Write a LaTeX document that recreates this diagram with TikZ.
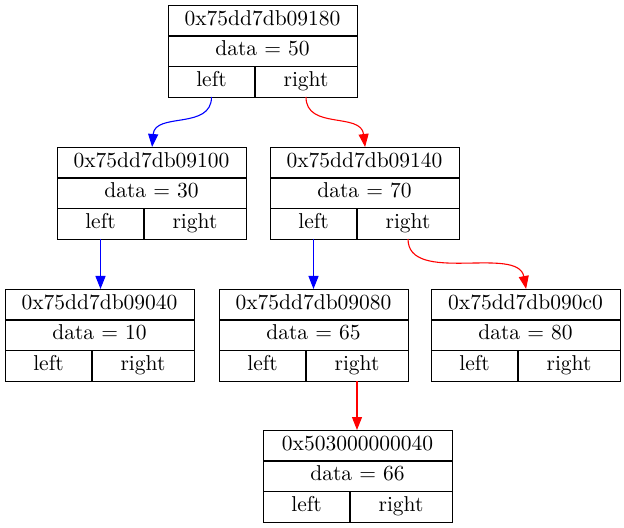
\documentclass[tikz,border=0pt]{standalone}
\usetikzlibrary{arrows.meta}
\begin{document}
\begin{tikzpicture}[x=0.5pt,y=-0.5pt,
  recbox/.style={draw=black,line width=0.6pt,inner sep=0pt,minimum width=94.5pt,minimum height=46pt},
  recline/.style={draw=black,line width=0.6pt},
  rectext/.style={inner sep=0pt,font=\fontsize{10.75}{13}\selectfont,text height=0.68em,text depth=0.22em},
  link/.style={line width=0.55pt,-{Triangle[length=6.5pt,width=5pt]}},
  leftlink/.style={link,blue},
  rightlink/.style={link,red}]
\useasboundingbox (0,0) rectangle (624,528);
% one tree node: name, left x, top y, address, key
\newcommand\bstnode[5]{%
  \begin{scope}[shift={(#2,#3)}]
    \node[recbox,anchor=north west] (#1) at (0,0) {};
    \draw[recline] (0,31) -- (189,31) (0,61.5) -- (189,61.5) (87,61.5) -- (87,92);
    \node[rectext] (#1-addr) at (94.5,15.5) {#4};
    \node[rectext] (#1-data) at (94.5,46.25) {data = #5};
    \node[rectext] (#1-left) at (43.5,76.75) {left};
    \node[rectext] (#1-right) at (138,76.75) {right};
    \coordinate (#1-lp) at (43.5,92);
    \coordinate (#1-rp) at (138,92);
  \end{scope}}
\bstnode{n50}{168}{5}{0x75dd7db09180}{50}
\bstnode{n30}{57}{147}{0x75dd7db09100}{30}
\bstnode{n70}{270}{147}{0x75dd7db09140}{70}
\bstnode{n10}{5}{289}{0x75dd7db09040}{10}
\bstnode{n65}{219}{289}{0x75dd7db09080}{65}
\bstnode{n80}{431}{289}{0x75dd7db090c0}{80}
\bstnode{n66}{263}{430}{0x503000000040}{66}
% child links
\draw[leftlink] (n50-lp) .. controls (211.5,130) and (155,112) .. (n30.north);
\draw[rightlink] (n50-rp) .. controls (306,130) and (361,112) .. (n70.north);
\draw[leftlink] (n30-lp) -- (n30-lp |- n10.north);
\draw[leftlink] (n70-lp) -- (n70-lp |- n65.north);
\draw[rightlink] (n70-rp) .. controls (408,285) and (518,245) .. (n80.north);
\draw[rightlink] (n65-rp) -- (n65-rp |- n66.north);
\end{tikzpicture}
\end{document}
